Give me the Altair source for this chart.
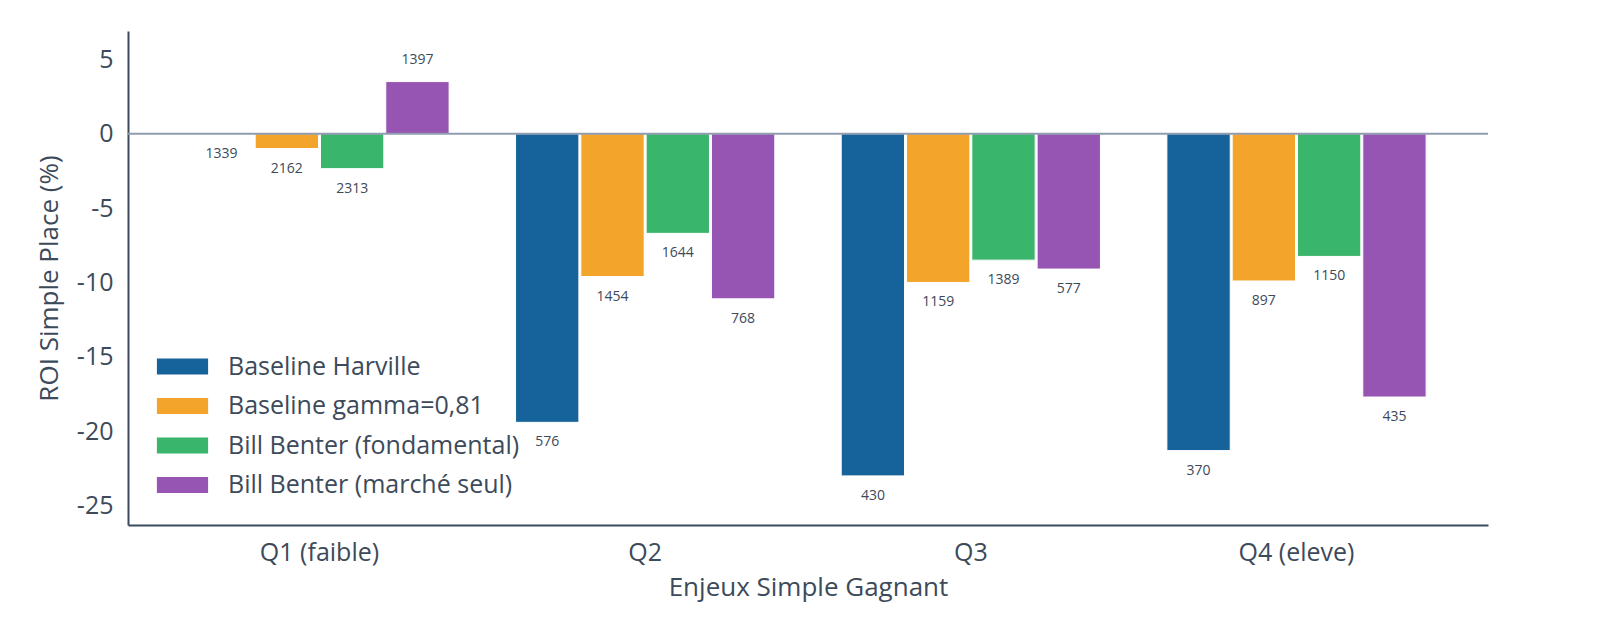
import pandas as pd
import altair as alt

# Values
quartiles = ["Q1 (faible)", "Q2", "Q3", "Q4 (eleve)"]
series = ["Baseline Harville", "Baseline gamma=0,81",
          "Bill Benter (fondamental)", "Bill Benter (marché seul)"]
roi = {
    "Baseline Harville":         [-0.05, -19.4, -23.0, -21.3],
    "Baseline gamma=0,81":       [-1.0, -9.6, -10.0, -9.9],
    "Bill Benter (fondamental)": [-2.35, -6.7, -8.5, -8.25],
    "Bill Benter (marché seul)": [3.5, -11.1, -9.1, -17.7],
}
counts = {
    "Baseline Harville":         [1339, 576, 430, 370],
    "Baseline gamma=0,81":       [2162, 1454, 1159, 897],
    "Bill Benter (fondamental)": [2313, 1644, 1389, 1150],
    "Bill Benter (marché seul)": [1397, 768, 577, 435],
}
colors = ["#16639b", "#f3a42a", "#3ab56c", "#9655b3"]

rows = []
for s in series:
    for i, q in enumerate(quartiles):
        rows.append({"q": q, "serie": s, "roi": roi[s][i], "n": counts[s][i]})
df = pd.DataFrame(rows)

FONT = "Open Sans"
INK = "#3d4a5a"

x = alt.X("q:N", sort=quartiles, title="Enjeux Simple Gagnant",
          scale=alt.Scale(paddingInner=0.204, paddingOuter=0.19),
          axis=alt.Axis(labelAngle=0, ticks=False, labelPadding=15,
                        titlePadding=9))
xo = alt.XOffset("serie:N", sort=series, scale=alt.Scale(paddingInner=0.03))
y = alt.Y("roi:Q", title="ROI Simple Place (%)",
          scale=alt.Scale(domain=[-26.3, 6.9], nice=False, zero=False),
          axis=alt.Axis(values=[5, 0, -5, -10, -15, -20, -25], ticks=False,
                        grid=False, labelPadding=15, titlePadding=14,
                        labelExpr="'' + datum.value"))

base = alt.Chart(df)

bars = base.mark_bar(stroke="white", strokeWidth=1).encode(
    x=x, xOffset=xo, y=y,
    color=alt.Color("serie:N", sort=series,
                    scale=alt.Scale(domain=series, range=colors),
                    legend=alt.Legend(title=None, orient="none",
                                      legendX=42, legendY=323,
                                      symbolType="M-3.2,-1H3.2V1H-3.2Z",
                                      symbolSize=256, symbolStrokeWidth=0,
                                      symbolOpacity=1, padding=0,
                                      labelOffset=33, rowPadding=13.5,
                                      labelFontSize=25, labelFont=FONT,
                                      labelColor=INK, labelLimit=400)),
)

zero = alt.Chart(pd.DataFrame({"z": [0]})).mark_rule(
    color="#909caf", strokeWidth=2).encode(y=alt.Y("z:Q"))

neg = base.transform_filter("datum.roi <= 0").mark_text(
    dy=20, fontSize=14, font=FONT, color=INK, baseline="middle").encode(
    x=x, xOffset=xo, y=y, text="n:Q")
pos = base.transform_filter("datum.roi > 0").mark_text(
    dy=-22, fontSize=14, font=FONT, color=INK, baseline="middle").encode(
    x=x, xOffset=xo, y=y, text="n:Q")

chart = alt.layer(bars, zero, neg, pos).properties(
    width=1360, height=494,
    autosize=alt.AutoSizeParams(type="none"),
    padding={"left": 120, "top": 23, "right": 100, "bottom": 100},
).configure_view(stroke=None).configure_axis(
    domainColor="#3b4a5c", domainWidth=2, labelColor=INK, titleColor=INK,
    labelFont=FONT, titleFont=FONT, labelFontSize=25, titleFontSize=26,
    titleFontWeight="normal", grid=False,
)

chart.save("out.html", embed_options={"renderer": "svg", "actions": False})
